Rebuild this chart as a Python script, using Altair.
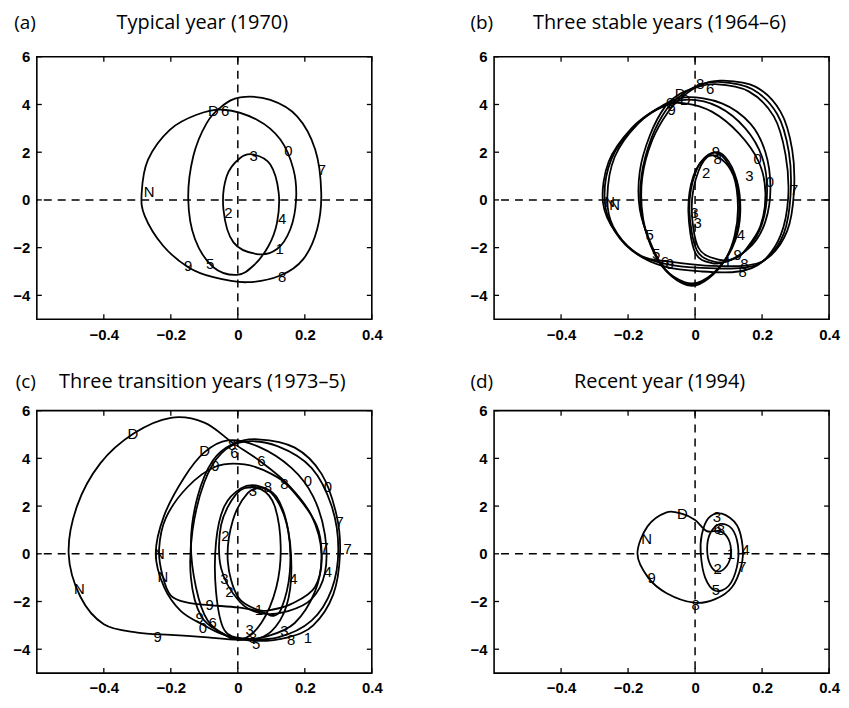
import altair as alt
import pandas as pd

# ---------------- data ----------------
# (a) Typical year (1970)
a_x = [0.057, -0.013, -0.043, -0.033, 0.007, 0.047, 0.097, 0.122, 0.117, 0.092,
       0.047, -0.003, -0.073, -0.128, -0.148, -0.133, -0.093, -0.048, 0.007, 0.097,
       0.177, 0.231, 0.249, 0.237, 0.196, 0.127, 0.027, -0.073, -0.148, -0.223,
       -0.278, -0.287, -0.268, -0.203, -0.123, -0.043, 0.057, 0.127, 0.166, 0.174,
       0.157, 0.117]
a_y = [-2.27, -1.78, -0.39, 1.0, 1.76, 1.9, 1.48, 0.30, -0.95, -1.92,
       -2.75, -3.14, -2.82, -1.64, 0.03, 1.83, 3.22, 3.92, 4.30, 4.19,
       3.5, 2.11, 0.30, -1.22, -2.47, -3.17, -3.45, -3.24, -2.82, -1.92,
       -0.67, 0.30, 1.69, 2.94, 3.57, 3.78, 3.36, 2.53, 1.28, 0.03,
       -1.22, -2.06]
a_lab_t = ["D", "6", "0", "3", "7", "N", "2", "4", "1", "5", "9", "8"]
a_lab_x = [-0.073, -0.038, 0.151, 0.047, 0.251, -0.265, -0.028, 0.132, 0.125, -0.083, -0.148, 0.132]
a_lab_y = [3.71, 3.71, 2.04, 1.83, 1.25, 0.33, -0.53, -0.81, -2.06, -2.68, -2.78, -3.24]

# (b) Three stable years (1964-6)
b1_x = [0.06, 0.005, -0.017, 0.0, 0.04, 0.08, 0.12, 0.132, 0.12, 0.085,
        0.03, -0.02, -0.08, -0.125, -0.16, -0.16, -0.13, -0.085, -0.04, 0.01,
        0.07, 0.17, 0.245, 0.28, 0.285, 0.265, 0.21, 0.14, 0.02, -0.08,
        -0.17, -0.24, -0.27, -0.25, -0.18, -0.1, -0.02, 0.07, 0.15, 0.2,
        0.215, 0.2, 0.16, 0.11]
b1_y = [-2.6, -2.1, -0.4, 1.1, 1.9, 1.85, 0.9, -0.4, -1.6, -2.6,
        -3.35, -3.55, -3.05, -2.1, -0.6, 1.0, 2.6, 3.8, 4.4, 4.8,
        4.95, 4.65, 3.6, 2.0, 0.2, -1.4, -2.5, -2.85, -2.85, -2.7,
        -2.3, -1.3, 0.0, 1.7, 3.1, 3.9, 4.2, 3.9, 3.0, 1.8,
        0.4, -1.0, -2.0, -2.5]
b2_x = [0.07, 0.01, -0.01, 0.01, 0.05, 0.09, 0.125, 0.135, 0.12, 0.08,
        0.02, -0.03, -0.09, -0.13, -0.165, -0.165, -0.135, -0.09, -0.045, 0.0,
        0.06, 0.16, 0.235, 0.27, 0.278, 0.255, 0.2, 0.13, 0.02, -0.09,
        -0.18, -0.245, -0.262, -0.24, -0.17, -0.09, -0.03, 0.05, 0.13, 0.19,
        0.21, 0.195, 0.15, 0.12]
b2_y = [-2.5, -2.0, -0.3, 1.2, 1.95, 1.8, 0.8, -0.5, -1.7, -2.7,
        -3.4, -3.45, -2.9, -1.9, -0.4, 1.2, 2.7, 3.9, 4.45, 4.7,
        4.85, 4.55, 3.5, 1.9, 0.1, -1.5, -2.6, -3.0, -3.0, -2.8,
        -2.2, -1.1, 0.1, 1.8, 3.2, 3.95, 4.05, 3.7, 2.8, 1.6,
        0.3, -1.1, -2.1, -2.45]
b3_x = [0.05, 0.0, -0.02, -0.005, 0.035, 0.075, 0.115, 0.128, 0.118, 0.09,
        0.04, -0.01, -0.07, -0.12, -0.155, -0.158, -0.128, -0.08, -0.035, 0.02,
        0.08, 0.18, 0.255, 0.29, 0.295, 0.275, 0.22, 0.15, 0.03, -0.07,
        -0.16, -0.235, -0.275, -0.258, -0.19, -0.11, -0.03, 0.08, 0.165, 0.21,
        0.225, 0.21, 0.17, 0.1]
b3_y = [-2.65, -2.2, -0.5, 1.0, 1.8, 1.75, 1.0, -0.3, -1.5, -2.5,
        -3.3, -3.6, -3.2, -2.3, -0.8, 0.9, 2.5, 3.7, 4.35, 4.85,
        5.0, 4.75, 3.7, 2.1, 0.3, -1.3, -2.4, -2.75, -2.75, -2.6,
        -2.35, -1.4, -0.1, 1.6, 3.0, 3.85, 4.3, 4.05, 3.2, 2.0,
        0.5, -0.9, -1.9, -2.55]
b_lab_t = ["8", "6", "D", "D", "6", "9", "9", "8", "2", "3", "0", "0", "7",
           "N", "N", "3", "3", "5", "5", "6", "9", "4", "1", "8", "8", "9"]
b_lab_x = [0.015, 0.045, -0.045, -0.03, -0.075, -0.07, 0.062, 0.067, 0.033, 0.162, 0.187, 0.223, 0.296,
           -0.255, -0.24, -0.002, 0.008, -0.136, -0.116, -0.09, -0.075, 0.137, 0.097, 0.147, 0.142, 0.127]
b_lab_y = [4.85, 4.65, 4.45, 4.2, 4.05, 3.75, 2.0, 1.7, 1.13, 0.99, 1.7, 0.75, 0.42,
           -0.1, -0.2, -0.55, -0.95, -1.48, -2.26, -2.6, -2.7, -1.48, -2.6, -2.7, -3.04, -2.33]

# (c) Three transition years (1973-5)
c1_x = [0.06, 0.0, -0.03, -0.015, 0.03, 0.07, 0.11, 0.128, 0.115, 0.07,
        0.01, -0.05, -0.11, -0.14, -0.135, -0.1, -0.05, 0.02, 0.12, 0.22,
        0.28, 0.3, 0.28, 0.22, 0.12, 0.0, -0.09, -0.2, -0.3, -0.4,
        -0.47, -0.505, -0.48, -0.41, -0.31, -0.2, -0.1, -0.015, 0.065, 0.15,
        0.22, 0.25, 0.23, 0.16, 0.1]
c1_y = [-2.35, -1.8, -0.3, 1.4, 2.55, 2.7, 2.0, 0.3, -1.4, -2.9,
        -3.6, -3.3, -2.6, -1.0, 1.0, 3.0, 4.2, 4.7, 4.5, 3.6,
        2.0, 0.2, -1.5, -2.8, -3.5, -3.6, -3.5, -3.4, -3.3, -2.95,
        -1.8, 0.0, 2.0, 3.8, 5.05, 5.7, 5.5, 4.65, 3.9, 2.9,
        1.6, 0.0, -1.4, -2.1, -2.35]
c2_x = [0.07, 0.005, -0.05, -0.05, -0.005, 0.045, 0.1, 0.145, 0.16, 0.145,
        0.1, 0.04, -0.03, -0.09, -0.125, -0.14, -0.12, -0.075, -0.015, 0.06,
        0.17, 0.25, 0.295, 0.305, 0.285, 0.225, 0.15, 0.05, -0.04, -0.1,
        -0.17, -0.22, -0.245, -0.22, -0.16, -0.1, -0.03, 0.06, 0.16, 0.225,
        0.26, 0.26, 0.22, 0.15]
c2_y = [-2.5, -2.0, -0.6, 1.2, 2.5, 2.8, 2.55, 1.3, -0.6, -2.2,
        -3.25, -3.6, -3.45, -2.8, -1.4, 0.5, 2.4, 3.9, 4.6, 4.8,
        4.45, 3.35, 1.6, 0.0, -1.7, -3.0, -3.5, -3.65, -3.4, -3.0,
        -2.4, -1.4, 0.0, 1.6, 3.2, 4.25, 4.75, 4.5, 3.6, 2.4,
        0.8, -0.8, -1.9, -2.4]
c3_x = [0.06, 0.0, -0.084, -0.15, -0.2, -0.225, -0.235, -0.215, -0.15, -0.067,
        0.02, 0.1, 0.16, 0.235, 0.25, 0.23, 0.17, 0.09, 0.02, -0.04,
        -0.065, -0.065, -0.04, 0.01, 0.06, 0.115, 0.15, 0.155, 0.13, 0.105,
        0.085]
c3_y = [-2.4, -2.25, -2.15, -2.05, -1.75, -0.9, 0.2, 1.5, 2.8, 3.65,
        3.75, 3.35, 2.7, 1.2, -0.2, -1.6, -2.9, -3.45, -3.55, -3.2,
        -1.6, 0.5, 2.0, 2.75, 2.85, 2.4, 1.0, -0.8, -2.3, -2.6,
        -2.5]
c_lab_t = ["D", "D", "8", "6", "9", "6", "0", "0", "3", "8", "8", "7",
           "2", "N", "7", "7", "N", "N", "3", "4", "4", "2", "9", "1",
           "9", "6", "0", "9", "3", "8", "5", "3", "8", "1"]
c_lab_x = [-0.313, -0.099, -0.017, -0.01, -0.067, 0.07, 0.209, 0.269, 0.045, 0.09, 0.139, 0.304,
           -0.037, -0.234, 0.259, 0.328, -0.224, -0.473, -0.04, 0.166, 0.269, -0.025, -0.084, 0.063,
           -0.114, -0.075, -0.104, -0.239, 0.035, 0.045, 0.055, 0.139, 0.159, 0.209]
c_lab_y = [5.0, 4.3, 4.54, 4.23, 3.68, 3.89, 3.05, 2.78, 2.64, 2.78, 2.92, 1.32,
           0.76, 0.0, 0.23, 0.21, -0.97, -1.46, -1.04, -1.04, -0.77, -1.6, -2.15, -2.36,
           -2.71, -2.92, -3.13, -3.47, -3.2, -3.54, -3.79, -3.24, -3.61, -3.54]

# (d) Recent year (1994)
d_x = [-0.003, 0.06, 0.11, 0.138, 0.142, 0.125, 0.08, 0.04, 0.02, 0.017,
       0.03, 0.06, 0.1, 0.125, 0.128, 0.11, 0.075, 0.045, 0.036, 0.045,
       0.068, 0.095, 0.107, 0.1, 0.075, 0.035, 0.0, -0.038, -0.085, -0.142,
       -0.172, -0.14, -0.085]
d_y = [-2.05, -1.9, -1.4, -0.5, 0.3, 1.2, 1.68, 1.5, 0.8, 0.0,
       -1.0, -1.55, -1.35, -0.55, 0.35, 1.05, 1.25, 0.85, 0.2, -0.45,
       -0.75, -0.5, 0.0, 0.6, 0.95, 0.95, 1.42, 1.67, 1.74, 1.15,
       0.0, -1.0, -1.65]
d_lab_t = ["D", "N", "9", "8", "5", "2", "1", "4", "7", "3", "6", "8"]
d_lab_x = [-0.038, -0.145, -0.13, 0.002, 0.062, 0.067, 0.107, 0.151, 0.141, 0.065, 0.067, 0.077]
d_lab_y = [1.67, 0.63, -1.0, -2.16, -1.53, -0.63, 0.0, 0.17, -0.56, 1.56, 1.05, 0.98]

x_ticks = [-0.4, -0.2, 0, 0.2, 0.4]
y_ticks = [-4, -2, 0, 2, 4, 6]

# ---------------- chart ----------------
W, H = 337, 264
FONT = "Liberation Sans"


def panel(curves, lab_t, lab_x, lab_y, letter, title, tdy):
    xs = alt.Scale(domain=[-0.6, 0.4], nice=False, zero=False)
    ys = alt.Scale(domain=[-5, 6], nice=False, zero=False)
    xax = alt.Axis(values=x_ticks, format=".1~f", title=None, grid=False, domain=False,
                   ticks=False, labelFlush=False, labelFont=FONT, labelFontWeight="bold",
                   labelFontSize=15, labelColor="black", labelPadding=8)
    yax = alt.Axis(values=y_ticks, format="d", title=None, grid=False, domain=False,
                   ticks=False, labelFlush=False, labelFont=FONT, labelFontWeight="bold",
                   labelFontSize=15, labelColor="black", labelPadding=7)
    rows = []
    for name, (cx, cy) in curves.items():
        for i, (vx, vy) in enumerate(zip(cx, cy)):
            rows.append({"x": vx, "y": vy, "i": i, "s": name})
    cdf = pd.DataFrame(rows)
    X = lambda f: alt.X(f, scale=xs, axis=xax)
    Y = lambda f: alt.Y(f, scale=ys, axis=yax)

    lines = alt.Chart(cdf).mark_line(
        interpolate="cardinal-closed", color="black", strokeWidth=1.8
    ).encode(x=X("x:Q"), y=Y("y:Q"), order="i:Q", detail="s:N")

    zero = pd.DataFrame({"v": [0]})
    hz = alt.Chart(zero).mark_rule(strokeDash=[8, 6], color="black", strokeWidth=1.5).encode(y=Y("v:Q"))
    vz = alt.Chart(zero).mark_rule(strokeDash=[8, 6], color="black", strokeWidth=1.5).encode(x=X("v:Q"))

    xt = pd.DataFrame({"t": x_ticks})
    yt = pd.DataFrame({"t": y_ticks})
    tk = dict(color="black", strokeWidth=1.3)
    t_top = alt.Chart(xt).mark_rule(**tk).encode(x=X("t:Q"), y=alt.value(0), y2=alt.value(5))
    t_bot = alt.Chart(xt).mark_rule(**tk).encode(x=X("t:Q"), y=alt.value(H), y2=alt.value(H - 5))
    t_lef = alt.Chart(yt).mark_rule(**tk).encode(y=Y("t:Q"), x=alt.value(0), x2=alt.value(5))
    t_rig = alt.Chart(yt).mark_rule(**tk).encode(y=Y("t:Q"), x=alt.value(W), x2=alt.value(W - 5))

    ldf = pd.DataFrame({"t": lab_t, "x": lab_x, "y": lab_y})
    labels = alt.Chart(ldf).mark_text(font=FONT, fontSize=15, color="black").encode(
        x=X("x:Q"), y=Y("y:Q"), text="t:N")

    hdf = pd.DataFrame({"t": [letter, title]})
    let = alt.Chart(hdf.iloc[[0]]).mark_text(
        font="Open Sans", fontSize=19, align="right", baseline="middle", color="black"
    ).encode(x=alt.value(-1), y=alt.value(tdy), text="t:N")
    ttl = alt.Chart(hdf.iloc[[1]]).mark_text(
        font="Open Sans", fontSize=20, align="center", baseline="middle", color="black"
    ).encode(x=alt.value(W / 2 - 2), y=alt.value(tdy), text="t:N")

    return alt.layer(hz, vz, t_top, t_bot, t_lef, t_rig, lines, labels, let, ttl).properties(
        width=W, height=H)


pa = panel({"a": (a_x, a_y)}, a_lab_t, a_lab_x, a_lab_y, "(a)", "Typical year (1970)", -34)
pb = panel({"b1": (b1_x, b1_y), "b2": (b2_x, b2_y), "b3": (b3_x, b3_y)},
           b_lab_t, b_lab_x, b_lab_y, "(b)", "Three stable years (1964–6)", -34)
pc = panel({"c1": (c1_x, c1_y), "c2": (c2_x, c2_y), "c3": (c3_x, c3_y)},
           c_lab_t, c_lab_x, c_lab_y, "(c)", "Three transition years (1973–5)", -29)
pd_ = panel({"d": (d_x, d_y)}, d_lab_t, d_lab_x, d_lab_y, "(d)", "Recent year (1994)", -29)

chart = alt.vconcat(
    alt.hconcat(pa, pb, spacing=86),
    alt.hconcat(pc, pd_, spacing=86),
    spacing=28,
).properties(
    padding={"left": 4, "top": 2, "right": 0, "bottom": 0}
).configure_view(stroke="black", strokeWidth=1.6)

chart.save("out.html", embed_options={"renderer": "svg", "actions": False})
